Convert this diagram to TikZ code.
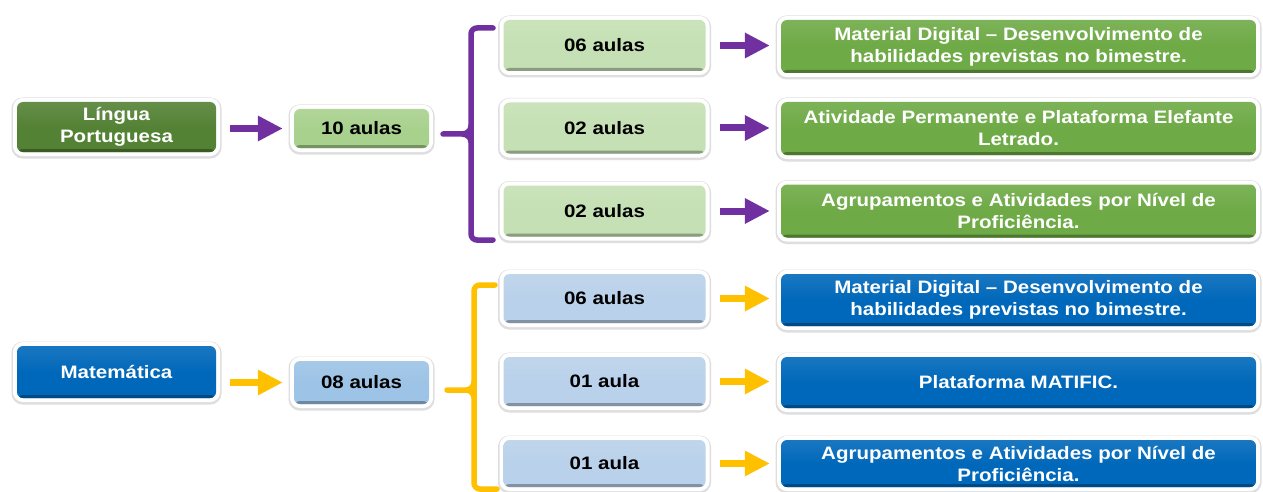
\documentclass[tikz,border=0pt]{standalone}
\usepackage{fontspec}
\setmainfont{Liberation Sans}[FakeStretch=1.14]
\usetikzlibrary{arrows.meta,shadows,calc}
\definecolor{lpG}{HTML}{548235}
\definecolor{rG}{HTML}{6EAA46}
\definecolor{midG}{HTML}{C5E0B4}
\definecolor{tG}{HTML}{A9D18E}
\definecolor{purp}{HTML}{7030A0}
\definecolor{bB}{HTML}{0068BA}
\definecolor{midB}{HTML}{B9D1EA}
\definecolor{tB}{HTML}{9DC3E6}
\definecolor{yel}{HTML}{FFC000}
\tikzset{
  box/.style={rounded corners=6pt, inner sep=0pt,
    align=center, font=\fontsize{18}{22}\selectfont\bfseries,
    preaction={draw=black!13, line width=11pt, transform canvas={yshift=-1pt}},
    preaction={draw=white, line width=8pt},
    top color=#1!90!white, bottom color=#1, middle color=#1,
    path picture={\fill[#1!70!black] ([yshift=-1pt]path picture bounding box.south west) rectangle ([yshift=3pt]path picture bounding box.south east);}},
  darkbox/.style={box=#1, text=white},
  lightbox/.style={box=#1, text=black},
  arr/.style={draw=#1, line width=7pt, -{Triangle[length=25pt,width=24pt]}, shorten <=14pt, shorten >=11pt},
  brk/.style={draw=#1, line width=5.5pt, line cap=round, rounded corners=6pt}
}
\begin{document}
\begin{tikzpicture}[x=1pt,y=-1pt]
\useasboundingbox (0,0) rectangle (1263,492);
\fill[white] (0,0) rectangle (1263,492);
% ---------- Lingua Portuguesa ----------
\node[darkbox=lpG, minimum width=199pt, minimum height=50pt] (lp) at (116.5,127) {Língua\\Portuguesa};
\node[lightbox=tG, minimum width=135pt, minimum height=39pt] (t10) at (361.5,128.5) {10 aulas};
\node[lightbox=midG, minimum width=202pt, minimum height=51pt] (m1) at (604.5,45.5) {06 aulas};
\node[lightbox=midG, minimum width=202pt, minimum height=51pt] (m2) at (604.5,128) {02 aulas};
\node[lightbox=midG, minimum width=202pt, minimum height=51pt] (m3) at (604.5,211) {02 aulas};
\node[darkbox=rG, minimum width=475pt, minimum height=53pt] (r1) at (1018.5,46.5) {Material Digital -- Desenvolvimento de\\habilidades previstas no bimestre.};
\node[darkbox=rG, minimum width=475pt, minimum height=53pt] (r2) at (1018.5,128.5) {Atividade Permanente e Plataforma Elefante\\Letrado.};
\node[darkbox=rG, minimum width=475pt, minimum height=53pt] (r3) at (1018.5,211) {Agrupamentos e Atividades por Nível de\\Proficiência.};
\draw[arr=purp] (lp.east |- t10.east) -- (t10.west);
\draw[arr=purp] (m1.east) -- (r1.west |- m1.east);
\draw[arr=purp] (m2.east) -- (r2.west |- m2.east);
\draw[arr=purp] (m3.east) -- (r3.west |- m3.east);
\coordinate (pTop) at (493,28);
\coordinate (pBot) at (493,240);
\coordinate (pTip) at (443,134);
\draw[brk=purp] (pTop) -- (471,28) -- (471,240) -- (pBot);
\draw[draw=purp, line width=5.5pt, line cap=round] (pTip) -- (462,134) to[out=0,in=-90] (471,126);
\draw[draw=purp, line width=5.5pt] (462,134) to[out=0,in=90] (471,142);
% ---------- Matematica ----------
\node[darkbox=bB, minimum width=199pt, minimum height=52pt] (mat) at (116.5,372) {Matemática};
\node[lightbox=tB, minimum width=135pt, minimum height=43pt] (t08) at (361.5,382.5) {08 aulas};
\node[lightbox=midB, minimum width=202pt, minimum height=49pt] (b1) at (604.5,298.5) {06 aulas};
\node[lightbox=midB, minimum width=202pt, minimum height=49pt] (b2) at (604.5,381.5) {01 aula};
\node[lightbox=midB, minimum width=202pt, minimum height=47pt] (b3) at (604.5,463.5) {01 aula};
\node[darkbox=bB, minimum width=475pt, minimum height=52pt] (rb1) at (1018.5,300) {Material Digital -- Desenvolvimento de\\habilidades previstas no bimestre.};
\node[darkbox=bB, minimum width=475pt, minimum height=51pt] (rb2) at (1018.5,382.5) {Plataforma MATIFIC.};
\node[darkbox=bB, minimum width=475pt, minimum height=47pt] (rb3) at (1018.5,463.5) {Agrupamentos e Atividades por Nível de\\Proficiência.};
\draw[arr=yel] (mat.east |- t08.east) -- (t08.west);
\draw[arr=yel] (b1.east) -- (rb1.west |- b1.east);
\draw[arr=yel] (b2.east) -- (rb2.west |- b2.east);
\draw[arr=yel] (b3.east) -- (rb3.west |- b3.east);
\coordinate (yTop) at (495,285);
\coordinate (yBot) at (497,489);
\coordinate (yTip) at (447,390);
\draw[brk=yel] (yTop) -- (474,285) -- (474,489) -- (yBot);
\draw[draw=yel, line width=5.5pt, line cap=round] (yTip) -- (466,390) to[out=0,in=-90] (474,382);
\draw[draw=yel, line width=5.5pt] (466,390) to[out=0,in=90] (474,398);
\end{tikzpicture}
\end{document}
